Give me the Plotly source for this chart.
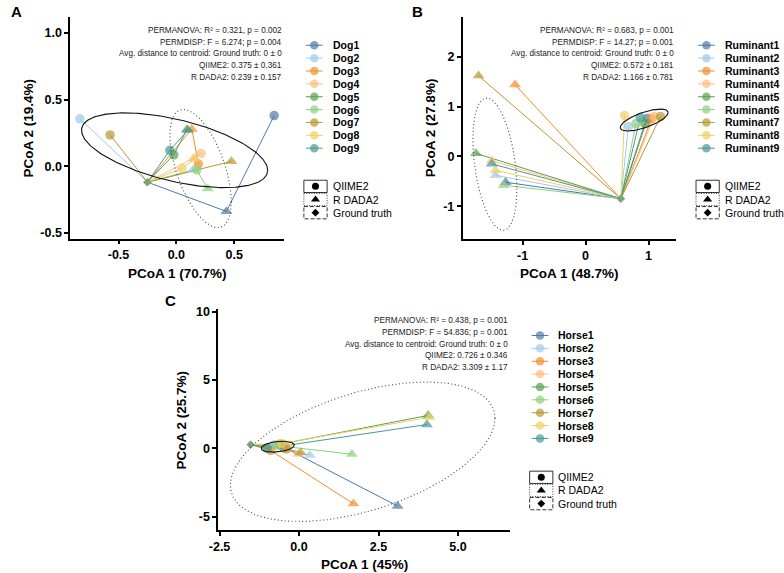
import numpy as np
import plotly.graph_objects as go

W, H = 784, 573
FONT = "Liberation Sans, Arial, Helvetica, sans-serif"

PALETTE = ["#4E79A7", "#A0CBE8", "#F28E2B", "#FFBE7D", "#59A14F",
           "#8CD17D", "#B6992D", "#F1CE63", "#499894"]
METHODS = ["QIIME2", "R DADA2", "Ground truth"]

# ---------------- Panel A : Dog ----------------
dog_samples = ["Dog1", "Dog2", "Dog3", "Dog4", "Dog5", "Dog6", "Dog7", "Dog8", "Dog9"]
dog_qiime_x = [0.846, -0.834, 0.191, 0.214, -0.022, 0.177, -0.573, 0.049, -0.056]
dog_qiime_y = [0.380, 0.355, 0.017, 0.096, 0.086, -0.027, 0.235, -0.015, 0.120]
dog_dada_x = [0.433, 0.143, 0.134, 0.150, 0.091, 0.271, 0.476, 0.162, 0.100]
dog_dada_y = [-0.338, -0.027, 0.279, 0.060, 0.274, -0.167, 0.037, 0.054, 0.270]
dog_gt_x = [-0.250] * 9
dog_gt_y = [-0.119] * 9
dog_stats = ["PERMANOVA: R² = 0.321, p = 0.002",
             "PERMDISP: F = 6.274; p = 0.004",
             "Avg. distance to centroid: Ground truth: 0 ± 0",
             "QIIME2: 0.375 ± 0.361",
             "R DADA2: 0.239 ± 0.157"]
# ellipse: centre x, centre y, x half-range, y half-range, phase
dog_ell_qiime = [-0.015, 0.12, 0.805, 0.28, 2.136]
dog_ell_dada = [0.21, -0.017, 0.266, 0.443, 2.165]

# ---------------- Panel B : Ruminant ----------------
rum_samples = ["Ruminant1", "Ruminant2", "Ruminant3", "Ruminant4", "Ruminant5",
               "Ruminant6", "Ruminant7", "Ruminant8", "Ruminant9"]
rum_qiime_x = [0.98, 0.68, 1.05, 1.09, 0.94, 0.80, 1.19, 0.62, 0.87]
rum_qiime_y = [0.76, 0.60, 0.76, 0.80, 0.66, 0.66, 0.80, 0.82, 0.78]
rum_dada_x = [-1.27, -1.43, -1.12, -1.49, -1.74, -1.30, -1.70, -1.43, -1.49]
rum_dada_y = [-0.52, -0.38, 1.44, -0.09, 0.06, -0.58, 1.62, -0.28, -0.15]
rum_gt_x = [0.56] * 9
rum_gt_y = [-0.85] * 9
rum_stats = ["PERMANOVA: R² = 0.683, p = 0.001",
             "PERMDISP: F = 14.27; p = 0.001",
             "Avg. distance to centroid: Ground truth: 0 ± 0",
             "QIIME2: 0.572 ± 0.181",
             "R DADA2: 1.166 ± 0.781"]
rum_ell_qiime = [0.93, 0.73, 0.38, 0.22, 0.823]
rum_ell_dada = [-1.44, -0.155, 0.35, 1.33, 1.950]

# ---------------- Panel C : Horse ----------------
horse_samples = ["Horse1", "Horse2", "Horse3", "Horse4", "Horse5",
                 "Horse6", "Horse7", "Horse8", "Horse9"]
horse_qiime_x = [-0.50, -0.80, -0.90, -0.35, -0.60, -0.70, -0.40, -0.55, -1.00]
horse_qiime_y = [0.10, 0.25, -0.15, 0.05, 0.30, 0.20, -0.05, 0.35, 0.00]
horse_dada_x = [3.10, 0.34, 1.71, -0.03, 4.06, 1.66, 0.05, 4.09, 4.02]
horse_dada_y = [-4.22, -0.50, -4.05, -0.43, 2.41, -0.43, -0.31, 2.27, 1.74]
horse_gt_x = [-1.52] * 9
horse_gt_y = [0.27] * 9
horse_stats = ["PERMANOVA: R² = 0.438, p = 0.001",
               "PERMDISP: F = 54.836; p = 0.001",
               "Avg. distance to centroid: Ground truth: 0 ± 0",
               "QIIME2: 0.726 ± 0.346",
               "R DADA2: 3.309 ± 1.17"]
horse_ell_qiime = [-0.67, 0.12, 0.52, 0.40, 1.266]
horse_ell_dada = [2.0, -0.25, 4.16, 5.1, 1.070]

panels = [
    dict(letter="A", samples=dog_samples,
         q=(dog_qiime_x, dog_qiime_y), d=(dog_dada_x, dog_dada_y), g=(dog_gt_x, dog_gt_y),
         stats=dog_stats, eq=dog_ell_qiime, ed=dog_ell_dada,
         xtitle="PCoA 1 (70.7%)", ytitle="PCoA 2 (19.4%)",
         xt=[-0.5, 0.0, 0.5], xl=["-0.5", "0.0", "0.5"],
         yt=[-0.5, 0.0, 0.5, 1.0], yl=["-0.5", "0.0", "0.5", "1.0"],
         xr=[-0.917, 0.932], yr=[-0.541, 1.119],
         box=(62, 278.3, 13, 237), ytx=20, letterxy=(8, 8),
         leg_top=41.7, shp_top=184.3, stat_top=26.7),
    dict(letter="B", samples=rum_samples,
         q=(rum_qiime_x, rum_qiime_y), d=(rum_dada_x, rum_dada_y), g=(rum_gt_x, rum_gt_y),
         stats=rum_stats, eq=rum_ell_qiime, ed=rum_ell_dada,
         xtitle="PCoA 1 (48.7%)", ytitle="PCoA 2 (27.8%)",
         xt=[-1, 0, 1], xl=["-1", "0", "1"],
         yt=[-1, 0, 1, 2], yl=["-1", "0", "1", "2"],
         xr=[-1.951, 1.440], yr=[-1.664, 2.803],
         box=(459, 675, 13, 237.7), ytx=426, letterxy=(413, 8),
         leg_top=41.7, shp_top=184.3, stat_top=26.7),
    dict(letter="C", samples=horse_samples,
         q=(horse_qiime_x, horse_qiime_y), d=(horse_dada_x, horse_dada_y), g=(horse_gt_x, horse_gt_y),
         stats=horse_stats, eq=horse_ell_qiime, ed=horse_ell_dada,
         xtitle="PCoA 1 (45%)", ytitle="PCoA 2 (25.7%)",
         xt=[-2.5, 0.0, 2.5, 5.0], xl=["-2.5", "0.0", "2.5", "5.0"],
         yt=[-5, 0, 5, 10], yl=["-5", "0", "5", "10"],
         xr=[-2.54, 6.63], yr=[-5.98, 10.18],
         box=(211.7, 506.7, 308.3, 531.7), ytx=175, letterxy=(163, 300),
         leg_top=335, shp_top=478.3, stat_top=320),
]

fig = go.Figure()
annotations = []
shapes = []
SYMS = ["circle", "triangle-up", "diamond"]
SIZES = [9.5, 10.5, 6]

for i, p in enumerate(panels):
    n = "" if i == 0 else str(i + 1)
    xa, ya = "x" + n, "y" + n
    x0, x1, t0, t1 = p["box"]
    qx, qy = p["q"]
    dx, dy = p["d"]
    gx, gy = p["g"]
    # connecting lines (ordered along PCoA 1)
    for k, s in enumerate(p["samples"]):
        pts = sorted([(qx[k], qy[k]), (dx[k], dy[k]), (gx[k], gy[k])])
        fig.add_trace(go.Scatter(x=[a for a, b in pts], y=[b for a, b in pts], mode="lines",
                                 line=dict(color=PALETTE[k], width=1), xaxis=xa, yaxis=ya,
                                 showlegend=False, hoverinfo="skip"))
    # points
    for k, s in enumerate(p["samples"]):
        fig.add_trace(go.Scatter(x=[qx[k], dx[k], gx[k]], y=[qy[k], dy[k], gy[k]], mode="markers",
                                 marker=dict(color=PALETTE[k], symbol=SYMS, size=SIZES,
                                             line=dict(width=0)),
                                 xaxis=xa, yaxis=ya, showlegend=False, name=s,
                                 text=METHODS, hovertemplate="%{text}<extra>" + s + "</extra>"))
    # ellipses
    t = np.linspace(0, 2 * np.pi, 240)
    for e, dash, col in [(p["eq"], "solid", "#111111"), (p["ed"], "1px,2.5px", "#444444")]:
        cx, cy, rx, ry, ph = e
        fig.add_trace(go.Scatter(x=cx + rx * np.cos(t), y=cy + ry * np.cos(t + ph), mode="lines",
                                 line=dict(color=col, width=1.1, dash=dash), xaxis=xa, yaxis=ya,
                                 showlegend=False, hoverinfo="skip"))
    ax = dict(showline=True, linecolor="black", linewidth=1.8, ticks="outside", ticklen=4,
              tickwidth=1.8, tickcolor="black", showgrid=False, zeroline=False,
              tickfont=dict(family=FONT, size=12.5, color="black", weight="bold"),
              fixedrange=True)
    fig.update_layout(**{
        ("xaxis" + n): dict(ax, domain=[x0 / W, x1 / W], range=p["xr"], tickvals=p["xt"],
                            ticktext=p["xl"], anchor=ya),
        ("yaxis" + n): dict(ax, domain=[1 - t1 / H, 1 - t0 / H], range=p["yr"], tickvals=p["yt"],
                            ticktext=p["yl"], anchor=xa),
    })
    # titles
    annotations.append(dict(x=(x0 + x1) / 2, y=t1 + 35, text=p["xtitle"], xref="x4", yref="y4",
                            showarrow=False, font=dict(family=FONT, size=13.5, color="black", weight="bold")))
    annotations.append(dict(x=p["ytx"], y=(t0 + t1) / 2, text=p["ytitle"], xref="x4", yref="y4",
                            textangle=-90, showarrow=False,
                            font=dict(family=FONT, size=13.5, color="black", weight="bold")))
    annotations.append(dict(x=p["letterxy"][0], y=p["letterxy"][1], text=p["letter"], xref="x4", yref="y4",
                            showarrow=False, font=dict(family=FONT, size=15, color="black", weight="bold")))
    for j, line in enumerate(p["stats"]):
        annotations.append(dict(x=x1, y=p["stat_top"] + 11.9 * j, text=line, xref="x4", yref="y4",
                                xanchor="right", showarrow=False,
                                font=dict(family=FONT, size=8.2, color="#222222")))
    # colour legend
    L = x1 + 20
    for k, s in enumerate(p["samples"]):
        yy = p["leg_top"] + 13 * k
        fig.add_trace(go.Scatter(x=[L + 2, L + 10.5, L + 19], y=[yy, yy, yy], mode="lines+markers",
                                 line=dict(color=PALETTE[k], width=1),
                                 marker=dict(size=[0, 8.5, 0], color=PALETTE[k], line=dict(width=0)),
                                 xaxis="x4", yaxis="y4", showlegend=False, hoverinfo="skip"))
        annotations.append(dict(x=L + 27, y=yy, text=s, xref="x4", yref="y4", xanchor="left",
                                showarrow=False,
                                font=dict(family=FONT, size=10.5, color="black", weight="bold")))
    # method legend
    for j, (m, sym, sz, dsh) in enumerate(zip(METHODS, SYMS, [7, 8, 6],
                                                ["solid", "1px,1.5px", "4px,2px"])):
        yy = p["shp_top"] + 13.3 * j
        shapes.append(dict(type="rect", xref="x4", yref="y4", x0=L, x1=L + 23.5, y0=yy - 6.2, y1=yy + 6.2,
                           line=dict(color="#333333", width=1, dash=dsh)))
        fig.add_trace(go.Scatter(x=[L + 11.75], y=[yy], mode="markers",
                                 marker=dict(symbol=sym, size=sz, color="black", line=dict(width=0)),
                                 xaxis="x4", yaxis="y4", showlegend=False, hoverinfo="skip"))
        annotations.append(dict(x=L + 27, y=yy, text=m, xref="x4", yref="y4", xanchor="left",
                                showarrow=False, font=dict(family=FONT, size=10.5, color="black")))

fig.update_layout(
    xaxis4=dict(domain=[0, 1], range=[0, W], visible=False, fixedrange=True, anchor="y4"),
    yaxis4=dict(domain=[0, 1], range=[H, 0], visible=False, fixedrange=True, anchor="x4"),
    width=W, height=H, margin=dict(l=0, r=0, t=0, b=0),
    paper_bgcolor="white", plot_bgcolor="rgba(0,0,0,0)",
    showlegend=False, annotations=annotations, shapes=shapes,
    font=dict(family=FONT),
)

fig.write_html("out.html")
